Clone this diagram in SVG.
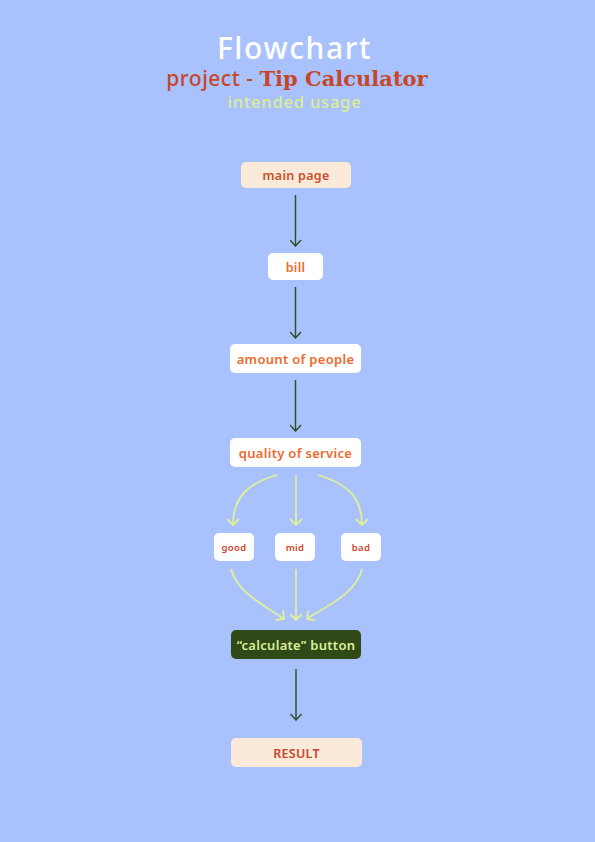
<svg xmlns="http://www.w3.org/2000/svg" width="595" height="842" viewBox="0 0 595 842">
  <defs>
    <style>
      .lbl { font-family: "Noto Sans", "Open Sans", sans-serif; font-weight: 600; text-anchor: middle; dominant-baseline: central; letter-spacing: 0.3px; }
      .peach { fill: #fbe9da; }
      .white { fill: #ffffff; }
      .dark { stroke: #2e4f2c; stroke-width: 1.5; fill: none; }
      .lime { stroke: #e0ef99; stroke-width: 1.8; fill: none; }
    </style>
    <!-- open chevron heads, drawn pointing along +x -->
    <marker id="headDark" viewBox="0 0 12 12" refX="11" refY="6" markerWidth="12" markerHeight="12" markerUnits="userSpaceOnUse" orient="auto">
      <path d="M5,0.5 L11,6 L5,11.5" fill="none" stroke="#2e4f2c" stroke-width="1.5"/>
    </marker>
    <marker id="headLime" viewBox="0 0 14 14" refX="12" refY="7" markerWidth="14" markerHeight="14" markerUnits="userSpaceOnUse" orient="auto">
      <path d="M6,1 L12,7 L6,13" fill="none" stroke="#e0ef99" stroke-width="1.8"/>
    </marker>
  </defs>

  <rect width="595" height="842" fill="#a9c2fd"/>

  <!-- heading -->
  <g id="title">
    <text x="294.5" y="59" font-family="'Noto Sans', sans-serif" font-size="30" font-weight="500" fill="#ffffff" text-anchor="middle" letter-spacing="1.6">Flowchart</text>
    <text x="297" y="86" font-size="21" text-anchor="middle" fill="#c4472a"><tspan font-family="'Noto Sans', sans-serif" font-weight="500" letter-spacing="0.5">project - </tspan><tspan font-family="'DejaVu Serif', serif" font-weight="bold">Tip Calculator</tspan></text>
    <text x="294.5" y="108" font-family="'Noto Sans', sans-serif" font-size="16.5" font-weight="500" fill="#dcee8f" text-anchor="middle" letter-spacing="0.8">intended usage</text>
  </g>

  <!-- connectors -->
  <g id="connectors">
    <line class="dark" x1="295.5" y1="195" x2="295.5" y2="246" marker-end="url(#headDark)"/>
    <line class="dark" x1="295.5" y1="287" x2="295.5" y2="338" marker-end="url(#headDark)"/>
    <line class="dark" x1="295.5" y1="380" x2="295.5" y2="431" marker-end="url(#headDark)"/>
    <line class="dark" x1="296" y1="669" x2="296" y2="720" marker-end="url(#headDark)"/>

    <path class="lime" d="M277,475 C250,483 233,495 233,525" marker-end="url(#headLime)"/>
    <path class="lime" d="M296,475 L296,525" marker-end="url(#headLime)"/>
    <path class="lime" d="M318,475 C345,483 362,495 362,525" marker-end="url(#headLime)"/>

    <path class="lime" d="M231,569 C238,595 270,608 284,619" marker-end="url(#headLime)"/>
    <path class="lime" d="M296,569 L296,620" marker-end="url(#headLime)"/>
    <path class="lime" d="M362,569 C356,595 322,608 307,619" marker-end="url(#headLime)"/>
  </g>

  <!-- nodes -->
  <g id="main-page">
    <rect class="peach" x="241" y="162" width="110" height="26" rx="5"/>
    <text class="lbl" x="296" y="175.5" font-size="12.5" fill="#c9502a">main page</text>
  </g>
  <g id="bill">
    <rect class="white" x="268" y="253" width="55" height="27" rx="5"/>
    <text class="lbl" x="295.5" y="267" font-size="12.5" fill="#ee6a2e">bill</text>
  </g>
  <g id="amount-of-people">
    <rect class="white" x="230" y="344" width="131" height="29" rx="5"/>
    <text class="lbl" x="295.5" y="359" font-size="13" fill="#ee6a2e">amount of people</text>
  </g>
  <g id="quality-of-service">
    <rect class="white" x="230" y="438" width="131" height="29" rx="5"/>
    <text class="lbl" x="295.5" y="453" font-size="13" fill="#ee6a2e">quality of service</text>
  </g>
  <g id="good">
    <rect class="white" x="214" y="533" width="40" height="28" rx="5"/>
    <text class="lbl" x="234" y="547.5" font-size="9.5" fill="#d0442a">good</text>
  </g>
  <g id="mid">
    <rect class="white" x="275" y="533" width="40" height="28" rx="5"/>
    <text class="lbl" x="295" y="547.5" font-size="9.5" fill="#d0442a">mid</text>
  </g>
  <g id="bad">
    <rect class="white" x="341" y="533" width="40" height="28" rx="5"/>
    <text class="lbl" x="361" y="547.5" font-size="9.5" fill="#d0442a">bad</text>
  </g>
  <g id="calculate-button">
    <rect x="231" y="630" width="130" height="29" rx="5" fill="#2f4a17"/>
    <text class="lbl" x="296" y="645" font-size="13" fill="#dcef9a">“calculate” button</text>
  </g>
  <g id="result">
    <rect class="peach" x="231" y="738" width="131" height="29" rx="5"/>
    <text class="lbl" x="296.5" y="753" font-size="12.5" fill="#c8442a">RESULT</text>
  </g>
</svg>
